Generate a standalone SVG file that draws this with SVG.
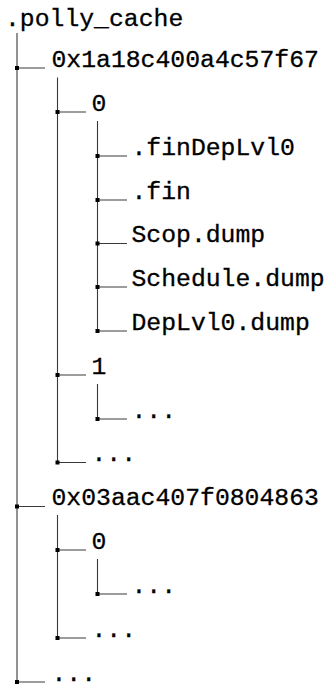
<svg xmlns="http://www.w3.org/2000/svg" width="330" height="684" viewBox="0 0 330 684">
  <style>
    .label { font-family: "Liberation Mono", "DejaVu Sans Mono", monospace; font-size: 24.75px; fill: #000; stroke: #000; stroke-width: 0.3px; }
    .branch { fill: none; stroke: #3a3a3a; stroke-width: 1.1px; }
    .knot { fill: #000; }
  </style>
  <rect width="330" height="684" fill="#fff"/>

  <!-- tree lines: vertical trunks, horizontal stubs and junction squares -->
  <g id="connectors">
    <path class="branch" d="
      M17 33 V682
      M57.5 77.5 V462
      M97.5 121 V331
      M97.5 384 V419
      M57.5 515 V638
      M97.5 559 V594
      M17 68 H45
      M57.5 112 H86
      M97.5 156 H127
      M97.5 200 H127
      M97.5 243.5 H127
      M97.5 287 H127
      M97.5 331 H127
      M57.5 375 H86
      M97.5 419 H127
      M57.5 462.5 H86
      M17 506.5 H45
      M57.5 550 H86
      M97.5 594 H127
      M57.5 638 H86
      M17 682 H45"/>
    <g class="knot">
      <rect x="15" y="66" width="4" height="4"/>
      <rect x="55.5" y="110" width="4" height="4"/>
      <rect x="95.5" y="154" width="4" height="4"/>
      <rect x="95.5" y="198" width="4" height="4"/>
      <rect x="95.5" y="241.5" width="4" height="4"/>
      <rect x="95.5" y="285" width="4" height="4"/>
      <rect x="95.5" y="329" width="4" height="4"/>
      <rect x="55.5" y="373" width="4" height="4"/>
      <rect x="95.5" y="417" width="4" height="4"/>
      <rect x="55.5" y="460.5" width="4" height="4"/>
      <rect x="15" y="504.5" width="4" height="4"/>
      <rect x="55.5" y="548" width="4" height="4"/>
      <rect x="95.5" y="592" width="4" height="4"/>
      <rect x="55.5" y="636" width="4" height="4"/>
      <rect x="15" y="680" width="4" height="4"/>
    </g>
  </g>

  <!-- entries -->
  <g id="root"><text class="label" x="5" y="25.5">.polly_cache</text></g>
  <g id="hash-a"><text class="label" x="51.5" y="66.5">0x1a18c400a4c57f67</text></g>
  <g id="hash-a-0"><text class="label" x="91.5" y="110.5">0</text></g>
  <g id="hash-a-0-findeplvl0"><text class="label" x="131.5" y="154.5">.finDepLvl0</text></g>
  <g id="hash-a-0-fin"><text class="label" x="131.5" y="198.5">.fin</text></g>
  <g id="hash-a-0-scop"><text class="label" x="131.5" y="242">Scop.dump</text></g>
  <g id="hash-a-0-schedule"><text class="label" x="131.5" y="285.5">Schedule.dump</text></g>
  <g id="hash-a-0-deplvl0"><text class="label" x="131.5" y="329.5">DepLvl0.dump</text></g>
  <g id="hash-a-1"><text class="label" x="91.5" y="373.5">1</text></g>
  <g id="hash-a-1-more"><text class="label" x="131.5" y="417.5">...</text></g>
  <g id="hash-a-more"><text class="label" x="91.5" y="461">...</text></g>
  <g id="hash-b"><text class="label" x="51.5" y="505">0x03aac407f0804863</text></g>
  <g id="hash-b-0"><text class="label" x="91.5" y="548.5">0</text></g>
  <g id="hash-b-0-more"><text class="label" x="131.5" y="592.5">...</text></g>
  <g id="hash-b-more"><text class="label" x="91.5" y="636.5">...</text></g>
  <g id="more"><text class="label" x="51.5" y="680.5">...</text></g>
</svg>
